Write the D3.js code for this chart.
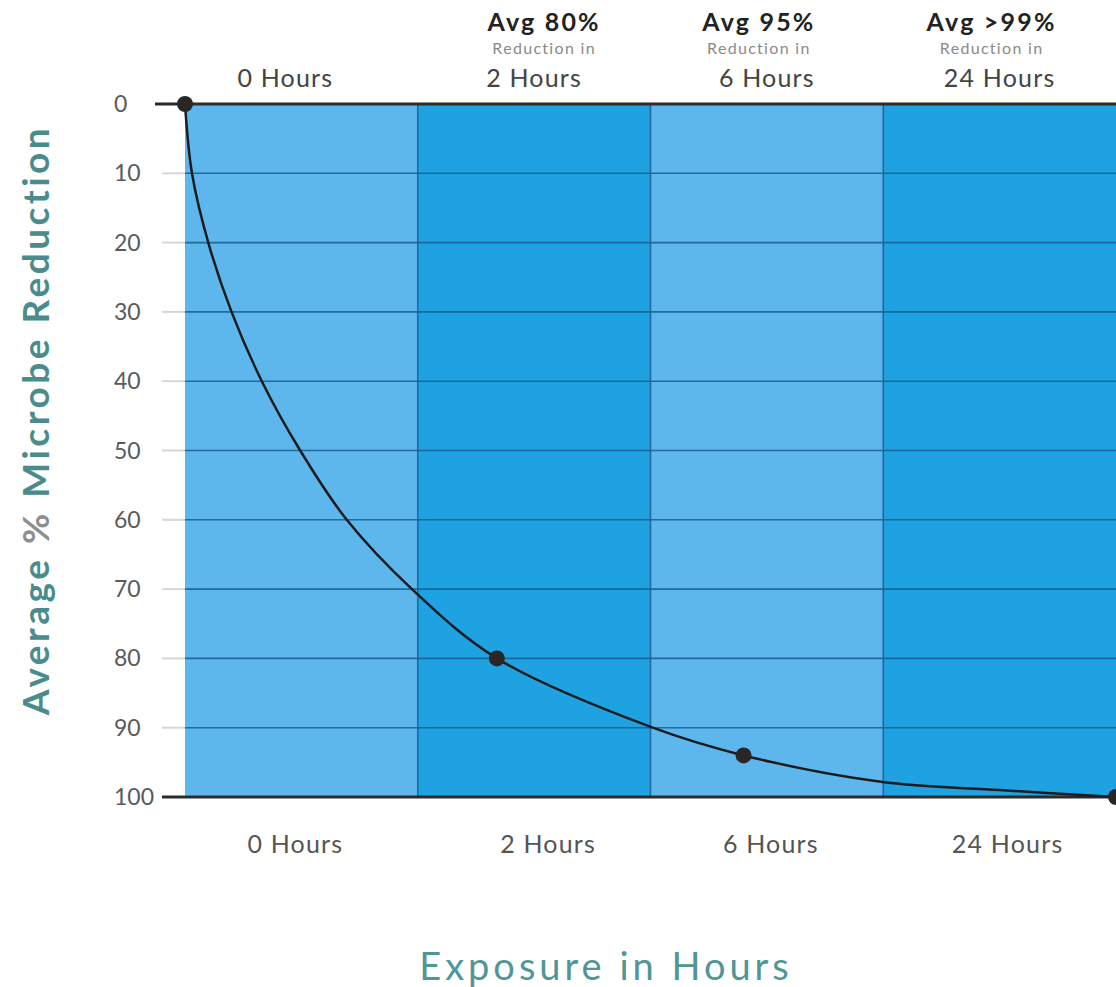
<!DOCTYPE html>
<html>
<head>
<meta charset="utf-8">
<script src="https://cdn.jsdelivr.net/npm/d3@7"></script>
<style>
  html, body { margin: 0; padding: 0; background: #fff; }
  svg { display: block; }
  text { font-family: Lato, "Open Sans", sans-serif; }
</style>
</head>
<body>
<svg id="chart" width="1116" height="987"></svg>
<script>
// ---- data ----
const columns = ["0 Hours", "2 Hours", "6 Hours", "24 Hours"];
const headlines = ["", "Avg 80%", "Avg 95%", "Avg >99%"];
const sublines = ["", "Reduction in", "Reduction in", "Reduction in"];
const yTicks = [0, 10, 20, 30, 40, 50, 60, 70, 80, 90, 100];
// curve: position in column units, % reduction
const curveX = [0, 0.03, 0.10, 0.20, 0.33, 0.495, 0.695, 0.975, 1.34, 2.01, 2.40, 2.99, 3.50, 4.0];
const curveY = [0, 10, 20, 30, 40, 50, 60, 70, 80, 90, 94, 97.8, 99.0, 100];
// measured points
const pointX = [0, 1.34, 2.40, 4.0];
const pointY = [0, 80, 94, 100];

// ---- layout ----
const svg = d3.select("#chart");
const pLeft = 185, pRight = 1116, pTop = 104, pBottom = 797;
const x = d3.scaleLinear().domain([0, 4]).range([pLeft, pRight]);
const y = d3.scaleLinear().domain([0, 100]).range([pTop, pBottom]);
const band = d3.scaleBand().domain(columns).range([pLeft, pRight]).padding(0);
const colFill = ["#5db7ed", "#1fa2e2", "#5db7ed", "#1fa2e2"];

// column backgrounds
svg.append("g").selectAll("rect").data(columns).join("rect")
  .attr("x", d => band(d)).attr("y", pTop)
  .attr("width", band.bandwidth()).attr("height", pBottom - pTop)
  .attr("fill", (d, i) => colFill[i]);

// gray tick stubs left of the plot
svg.append("g").selectAll("line").data(yTicks.slice(1, -1)).join("line")
  .attr("x1", 162).attr("x2", pLeft).attr("y1", d => y(d)).attr("y2", d => y(d))
  .attr("stroke", "#d6d6d6").attr("stroke-width", 2);

// horizontal grid lines
svg.append("g").selectAll("line").data(yTicks.slice(1, -1)).join("line")
  .attr("x1", pLeft).attr("x2", pRight).attr("y1", d => y(d)).attr("y2", d => y(d))
  .attr("stroke", "#1a6294").attr("stroke-width", 1.6).attr("opacity", 0.9);

// vertical column boundaries
svg.append("g").selectAll("line").data(columns.slice(1)).join("line")
  .attr("x1", d => band(d)).attr("x2", d => band(d)).attr("y1", pTop).attr("y2", pBottom)
  .attr("stroke", "#1a6294").attr("stroke-width", 1.6).attr("opacity", 0.9);

// top and bottom frame lines
svg.append("line").attr("x1", 155).attr("x2", pRight).attr("y1", y(0)).attr("y2", y(0))
  .attr("stroke", "#2b2b2b").attr("stroke-width", 3);
svg.append("line").attr("x1", 162).attr("x2", pRight).attr("y1", y(100)).attr("y2", y(100))
  .attr("stroke", "#2b2b2b").attr("stroke-width", 3);

// y tick labels
svg.append("g").selectAll("text").data(yTicks).join("text")
  .attr("x", 114).attr("y", d => y(d)).attr("dy", "0.35em")
  .attr("font-size", 23).attr("fill", "#5a5a5a").text(d => d);

// curve
const line = d3.line().x(d => x(d[0])).y(d => y(d[1])).curve(d3.curveCatmullRom.alpha(0.5));
svg.append("path").datum(d3.zip(curveX, curveY))
  .attr("d", line).attr("fill", "none").attr("stroke", "#1c1c1c").attr("stroke-width", 2.5);

// points
svg.append("g").selectAll("circle").data(d3.zip(pointX, pointY)).join("circle")
  .attr("cx", d => x(d[0])).attr("cy", d => y(d[1])).attr("r", 8).attr("fill", "#2a2626");

// top labels
const cx = d => band(d) + band.bandwidth() / 2;
svg.append("g").selectAll("text").data(columns).join("text")
  .attr("x", (d, i) => cx(d) - (i === 0 ? 16 : 0)).attr("y", 87)
  .attr("text-anchor", "middle").attr("font-size", 25).attr("letter-spacing", 1.2)
  .attr("fill", "#444").text(d => d);
svg.append("g").selectAll("text").data(headlines).join("text")
  .attr("x", (d, i) => cx(columns[i]) + (i === 1 ? 10 : -8)).attr("y", 31)
  .attr("text-anchor", "middle").attr("font-size", 25).attr("font-weight", "bold")
  .attr("letter-spacing", 2.2).attr("fill", "#222").text(d => d);
svg.append("g").selectAll("text").data(sublines).join("text")
  .attr("x", (d, i) => cx(columns[i]) + (i === 1 ? 10 : -8)).attr("y", 54)
  .attr("text-anchor", "middle").attr("font-size", 16).attr("letter-spacing", 1.3)
  .attr("fill", "#8a8a8a").text(d => d);

// bottom labels
svg.append("g").selectAll("text").data(columns).join("text")
  .attr("x", (d, i) => cx(d) + [-6, 14, 4, 8][i]).attr("y", 853)
  .attr("text-anchor", "middle").attr("font-size", 25).attr("letter-spacing", 1.2)
  .attr("fill", "#555").text(d => d);

// axis titles
svg.append("text").attr("x", 606).attr("y", 980).attr("text-anchor", "middle")
  .attr("font-size", 38).attr("fill", "#4f9696").attr("letter-spacing", 4)
  .text("Exposure in Hours");

const yt = svg.append("text")
  .attr("transform", "translate(49,420) rotate(-90)")
  .attr("text-anchor", "middle").attr("font-size", 37).attr("font-weight", "bold")
  .attr("fill", "#4a8c8c").attr("letter-spacing", 3.5);
yt.append("tspan").text("Average ");
yt.append("tspan").attr("fill", "#8a8f8f").text("%");
yt.append("tspan").text(" Microbe Reduction");
</script>
</body>
</html>
